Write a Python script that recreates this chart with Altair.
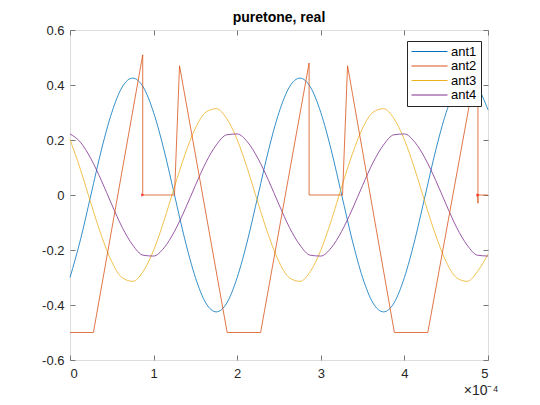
import altair as alt
import pandas as pd

# sample positions (units of 1e-4)
t = [0.0, 0.125, 0.25, 0.375, 0.5, 0.625, 0.75, 0.875,
     1.0, 1.125, 1.25, 1.375, 1.5, 1.625, 1.75, 1.875,
     2.0, 2.125, 2.25, 2.375, 2.5, 2.625, 2.75, 2.875,
     3.0, 3.125, 3.25, 3.375, 3.5, 3.625, 3.75, 3.875,
     4.0, 4.125, 4.25, 4.375, 4.5, 4.625, 4.75, 4.875, 5.0]

ant1 = [-0.300, -0.163, 0.000, 0.163, 0.300, 0.393, 0.425, 0.393,
        0.300, 0.163, 0.000, -0.163, -0.300, -0.393, -0.425, -0.393,
        -0.300, -0.163, 0.000, 0.163, 0.300, 0.393, 0.425, 0.393,
        0.300, 0.163, 0.000, -0.163, -0.300, -0.393, -0.425, -0.393,
        -0.300, -0.163, 0.000, 0.163, 0.300, 0.393, 0.425, 0.393, 0.310]

ant3 = [0.201, 0.093, -0.030, -0.147, -0.243, -0.301, -0.314, -0.278,
        -0.201, -0.093, 0.030, 0.147, 0.243, 0.301, 0.314, 0.278,
        0.201, 0.093, -0.030, -0.147, -0.243, -0.301, -0.314, -0.278,
        -0.201, -0.093, 0.030, 0.147, 0.243, 0.301, 0.314, 0.278,
        0.201, 0.093, -0.030, -0.147, -0.243, -0.301, -0.314, -0.278, -0.215]

ant4 = [0.222, 0.192, 0.132, 0.053, -0.035, -0.118, -0.182, -0.219,
        -0.222, -0.192, -0.132, -0.053, 0.035, 0.118, 0.182, 0.219,
        0.222, 0.192, 0.132, 0.053, -0.035, -0.118, -0.182, -0.219,
        -0.222, -0.192, -0.132, -0.053, 0.035, 0.118, 0.182, 0.219,
        0.222, 0.192, 0.132, 0.053, -0.035, -0.118, -0.182, -0.219, -0.222]

# ant2 is clipped / piecewise
ant2_t = [0.00, 0.28, 0.87, 0.87, 1.25, 1.31, 1.88, 2.28, 2.86, 2.86,
          3.26, 3.32, 3.88, 4.28, 4.88, 4.88, 4.88, 5.00]
ant2_v = [-0.50, -0.50, 0.51, 0.00, 0.00, 0.47, -0.50, -0.50, 0.48, 0.00,
          0.00, 0.47, -0.50, -0.50, 0.50, -0.03, 0.00, 0.00]

marker_t = [0.87, 4.88]
marker_v = [0.00, 0.00]

series = ["ant1", "ant2", "ant3", "ant4"]
colors = ["#0072BD", "#D95319", "#EDB120", "#7E2F8E"]
x_ticks = [0, 1, 2, 3, 4, 5]
y_ticks = [-0.6, -0.4, -0.2, 0, 0.2, 0.4, 0.6]

rows = []
for name, vals in [("ant1", ant1), ("ant3", ant3), ("ant4", ant4)]:
    for i, (tt, vv) in enumerate(zip(t, vals)):
        rows.append({"series": name, "t": tt, "v": vv, "idx": i})
smooth_df = pd.DataFrame(rows)
ant2_df = pd.DataFrame({"series": "ant2", "t": ant2_t, "v": ant2_v,
                        "idx": list(range(len(ant2_t)))})
marker_df = pd.DataFrame({"t": marker_t, "v": marker_v})

FONT = "Liberation Sans"
AX = "#777777"
LW = 0.8
xscale = alt.Scale(domain=[0, 5], nice=False, zero=False)
yscale = alt.Scale(domain=[-0.6, 0.6], nice=False, zero=False)
cscale = alt.Scale(domain=series, range=colors)

ylab = "datum.value == 0 ? '0' : replace(format(datum.value, '.1f'), '\u2212', '-')"

base_axis = dict(tickSize=5, offset=-5, domain=False, grid=False,
                 tickColor=AX, labelFont=FONT, labelFontSize=13,
                 labelColor="#262626")

smooth = alt.Chart(smooth_df).mark_line(interpolate="monotone", strokeWidth=LW).encode(
    x=alt.X("t:Q", scale=xscale,
            axis=alt.Axis(orient="bottom", values=x_ticks, format="d", labelPadding=7,
                          title="\u00d710\u207b\u2074", titleFont=FONT, titleFontSize=14,
                          titleFontWeight="normal", titleColor="#262626",
                          titleAlign="right", titleAnchor="end", titleBaseline="alphabetic",
                          titleX=428, titleY=39, **base_axis)),
    y=alt.Y("v:Q", scale=yscale,
            axis=alt.Axis(orient="left", values=y_ticks, labelExpr=ylab, labelPadding=6,
                          title="", **base_axis)),
    color=alt.Color("series:N", scale=cscale,
                    legend=alt.Legend(orient="none", legendX=337, legendY=11, title=None,
                                      symbolType="M-3,0H3", symbolSize=144,
                                      symbolOffset=12, symbolStrokeWidth=1,
                                      labelFont=FONT, labelFontSize=13,
                                      labelColor="#000000", labelOffset=15,
                                      padding=4, rowPadding=0.5,
                                      fillColor="white", strokeColor="#262626")),
    detail="series:N",
    order="idx:Q",
)

ant2_line = alt.Chart(ant2_df).mark_line(strokeWidth=LW).encode(
    x=alt.X("t:Q", scale=xscale,
            axis=alt.Axis(orient="top", values=x_ticks, labels=False, title="", **base_axis)),
    y=alt.Y("v:Q", scale=yscale,
            axis=alt.Axis(orient="right", values=y_ticks, labels=False, title="", **base_axis)),
    color=alt.Color("series:N", scale=cscale, legend=None),
    order="idx:Q",
)

markers = alt.Chart(marker_df).mark_point(shape="triangle-right", filled=True,
                                           size=14, color="#ff0000").encode(
    x=alt.X("t:Q", scale=xscale, axis=None),
    y=alt.Y("v:Q", scale=yscale, axis=None),
)

chart = alt.layer(smooth, ant2_line, markers).properties(
    width=418, height=330,
    autosize=alt.AutoSizeParams(type="none"),
    padding={"left": 62, "top": 22, "right": 40, "bottom": 37},
    title=alt.TitleParams("puretone, real", font=FONT, fontSize=14, fontWeight="bold",
                          color="#000000", offset=4, dy=5),
).configure_view(stroke=AX, strokeWidth=1).configure(background="white")

chart.save("out.html", embed_options={"renderer": "svg", "actions": False})
